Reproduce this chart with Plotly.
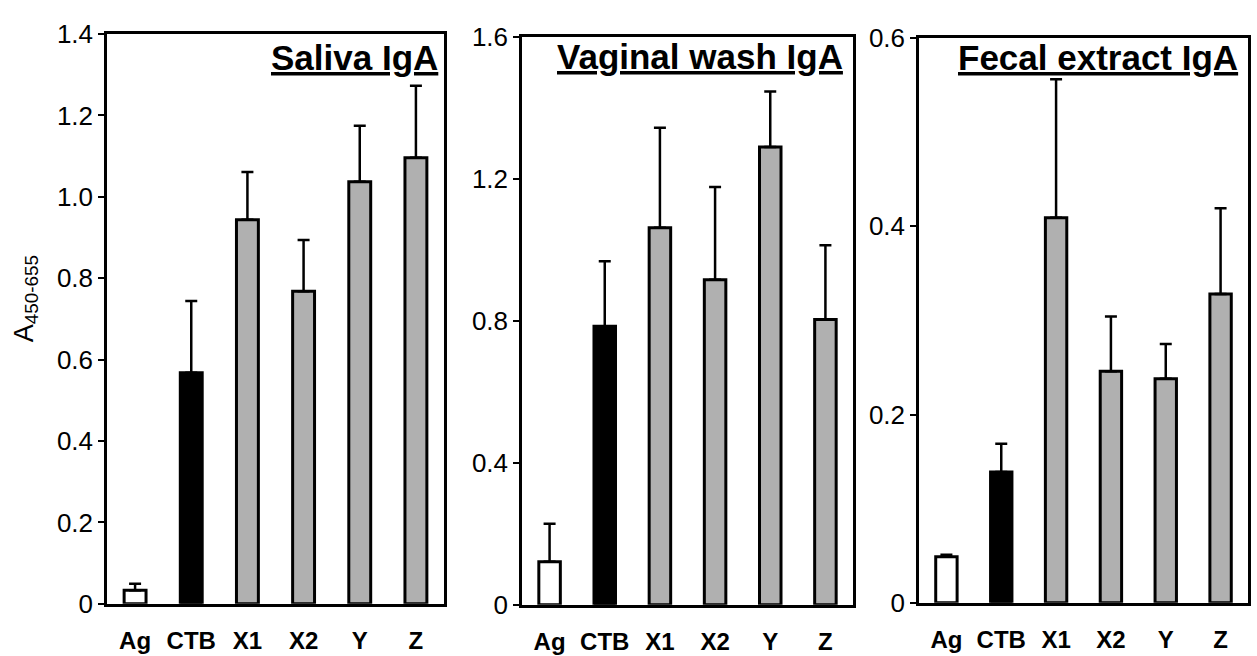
import plotly.graph_objects as go

# ---------------- data ----------------
categories = ["Ag", "CTB", "X1", "X2", "Y", "Z"]

saliva_mean = [0.033, 0.568, 0.944, 0.768, 1.037, 1.096]
saliva_err = [0.016, 0.176, 0.117, 0.126, 0.138, 0.177]

vaginal_mean = [0.121, 0.785, 1.062, 0.916, 1.290, 0.804]
vaginal_err = [0.107, 0.183, 0.282, 0.261, 0.156, 0.209]

fecal_mean = [0.049, 0.139, 0.409, 0.246, 0.238, 0.328]
fecal_err = [0.002, 0.030, 0.147, 0.058, 0.037, 0.091]

panel_titles = ["Saliva IgA", "Vaginal wash IgA", "Fecal extract IgA"]
y_max = [1.4, 1.6, 0.6]
y_tickvals = [
    [0, 0.2, 0.4, 0.6, 0.8, 1.0, 1.2, 1.4],
    [0, 0.4, 0.8, 1.2, 1.6],
    [0, 0.2, 0.4, 0.6],
]
y_ticktext = [
    ["0", "0.2", "0.4", "0.6", "0.8", "1.0", "1.2", "1.4"],
    ["0", "0.4", "0.8", "1.2", "1.6"],
    ["0", "0.2", "0.4", "0.6"],
]
y_title = "A<sub>450-655</sub>"

# ---------------- styles ----------------
W, H = 1257, 656
bar_colors = ["white", "black", "#b0b0b0", "#b0b0b0", "#b0b0b0", "#b0b0b0"]
# panel boxes in pixels: left, right, top, bottom
boxes = [(107, 444, 20, 617), (522, 853, 23, 618), (919, 1248, 24, 616)]
title_right = [440, 845, 1240]
title_yc = [45, 44, 45]
FONT = "Liberation Sans, Arial, Helvetica, sans-serif"

means = [saliva_mean, vaginal_mean, fecal_mean]
errs = [saliva_err, vaginal_err, fecal_err]

fig = go.Figure()
annotations = []
for i in range(3):
    n = "" if i == 0 else str(i + 1)
    fig.add_trace(go.Bar(
        x=categories, y=means[i],
        marker=dict(color=bar_colors, line=dict(color="black", width=3)),
        width=0.39,
        error_y=dict(type="data", symmetric=False, array=errs[i],
                     arrayminus=[0] * len(categories),
                     color="black", thickness=2.5, width=6),
        xaxis="x" + n, yaxis="y" + n, showlegend=False,
    ))
    l, r, t, b = boxes[i]
    axis_common = dict(showline=True, linecolor="black", linewidth=2.5,
                       mirror=True, showgrid=False, zeroline=False)
    fig.update_layout(**{
        "xaxis" + n: dict(domain=[l / W, r / W], anchor="y" + n,
                          ticks="", tickfont=dict(family=FONT, size=24,
                                                  color="black", weight="bold"),
                          ticklabelstandoff=14,
                          range=[-0.5, 5.5], **axis_common),
        "yaxis" + n: dict(domain=[(H - b) / H, (H - t) / H], anchor="x" + n,
                          range=[0, y_max[i]], tickvals=y_tickvals[i],
                          ticktext=y_ticktext[i], ticks="outside", ticklen=6,
                          tickwidth=2, tickcolor="black",
                          tickfont=dict(family=FONT, size=26, color="black"),
                          **axis_common),
    })
    annotations.append(dict(
        text="<b><u>" + panel_titles[i] + "</u></b>",
        xref="paper", yref="paper",
        x=title_right[i] / W, y=(H - title_yc[i]) / H,
        xanchor="right", yanchor="middle", showarrow=False,
        font=dict(family=FONT, size=35, color="black"),
    ))

annotations.append(dict(
    text=y_title, xref="paper", yref="paper",
    x=26 / W, y=(H - 298) / H, xanchor="center", yanchor="middle",
    textangle=-90, showarrow=False,
    font=dict(family=FONT, size=27, color="black"),
))

fig.update_layout(
    width=W, height=H,
    margin=dict(l=0, r=0, t=0, b=0),
    paper_bgcolor="white", plot_bgcolor="white",
    annotations=annotations,
)

fig.write_html("out.html")
